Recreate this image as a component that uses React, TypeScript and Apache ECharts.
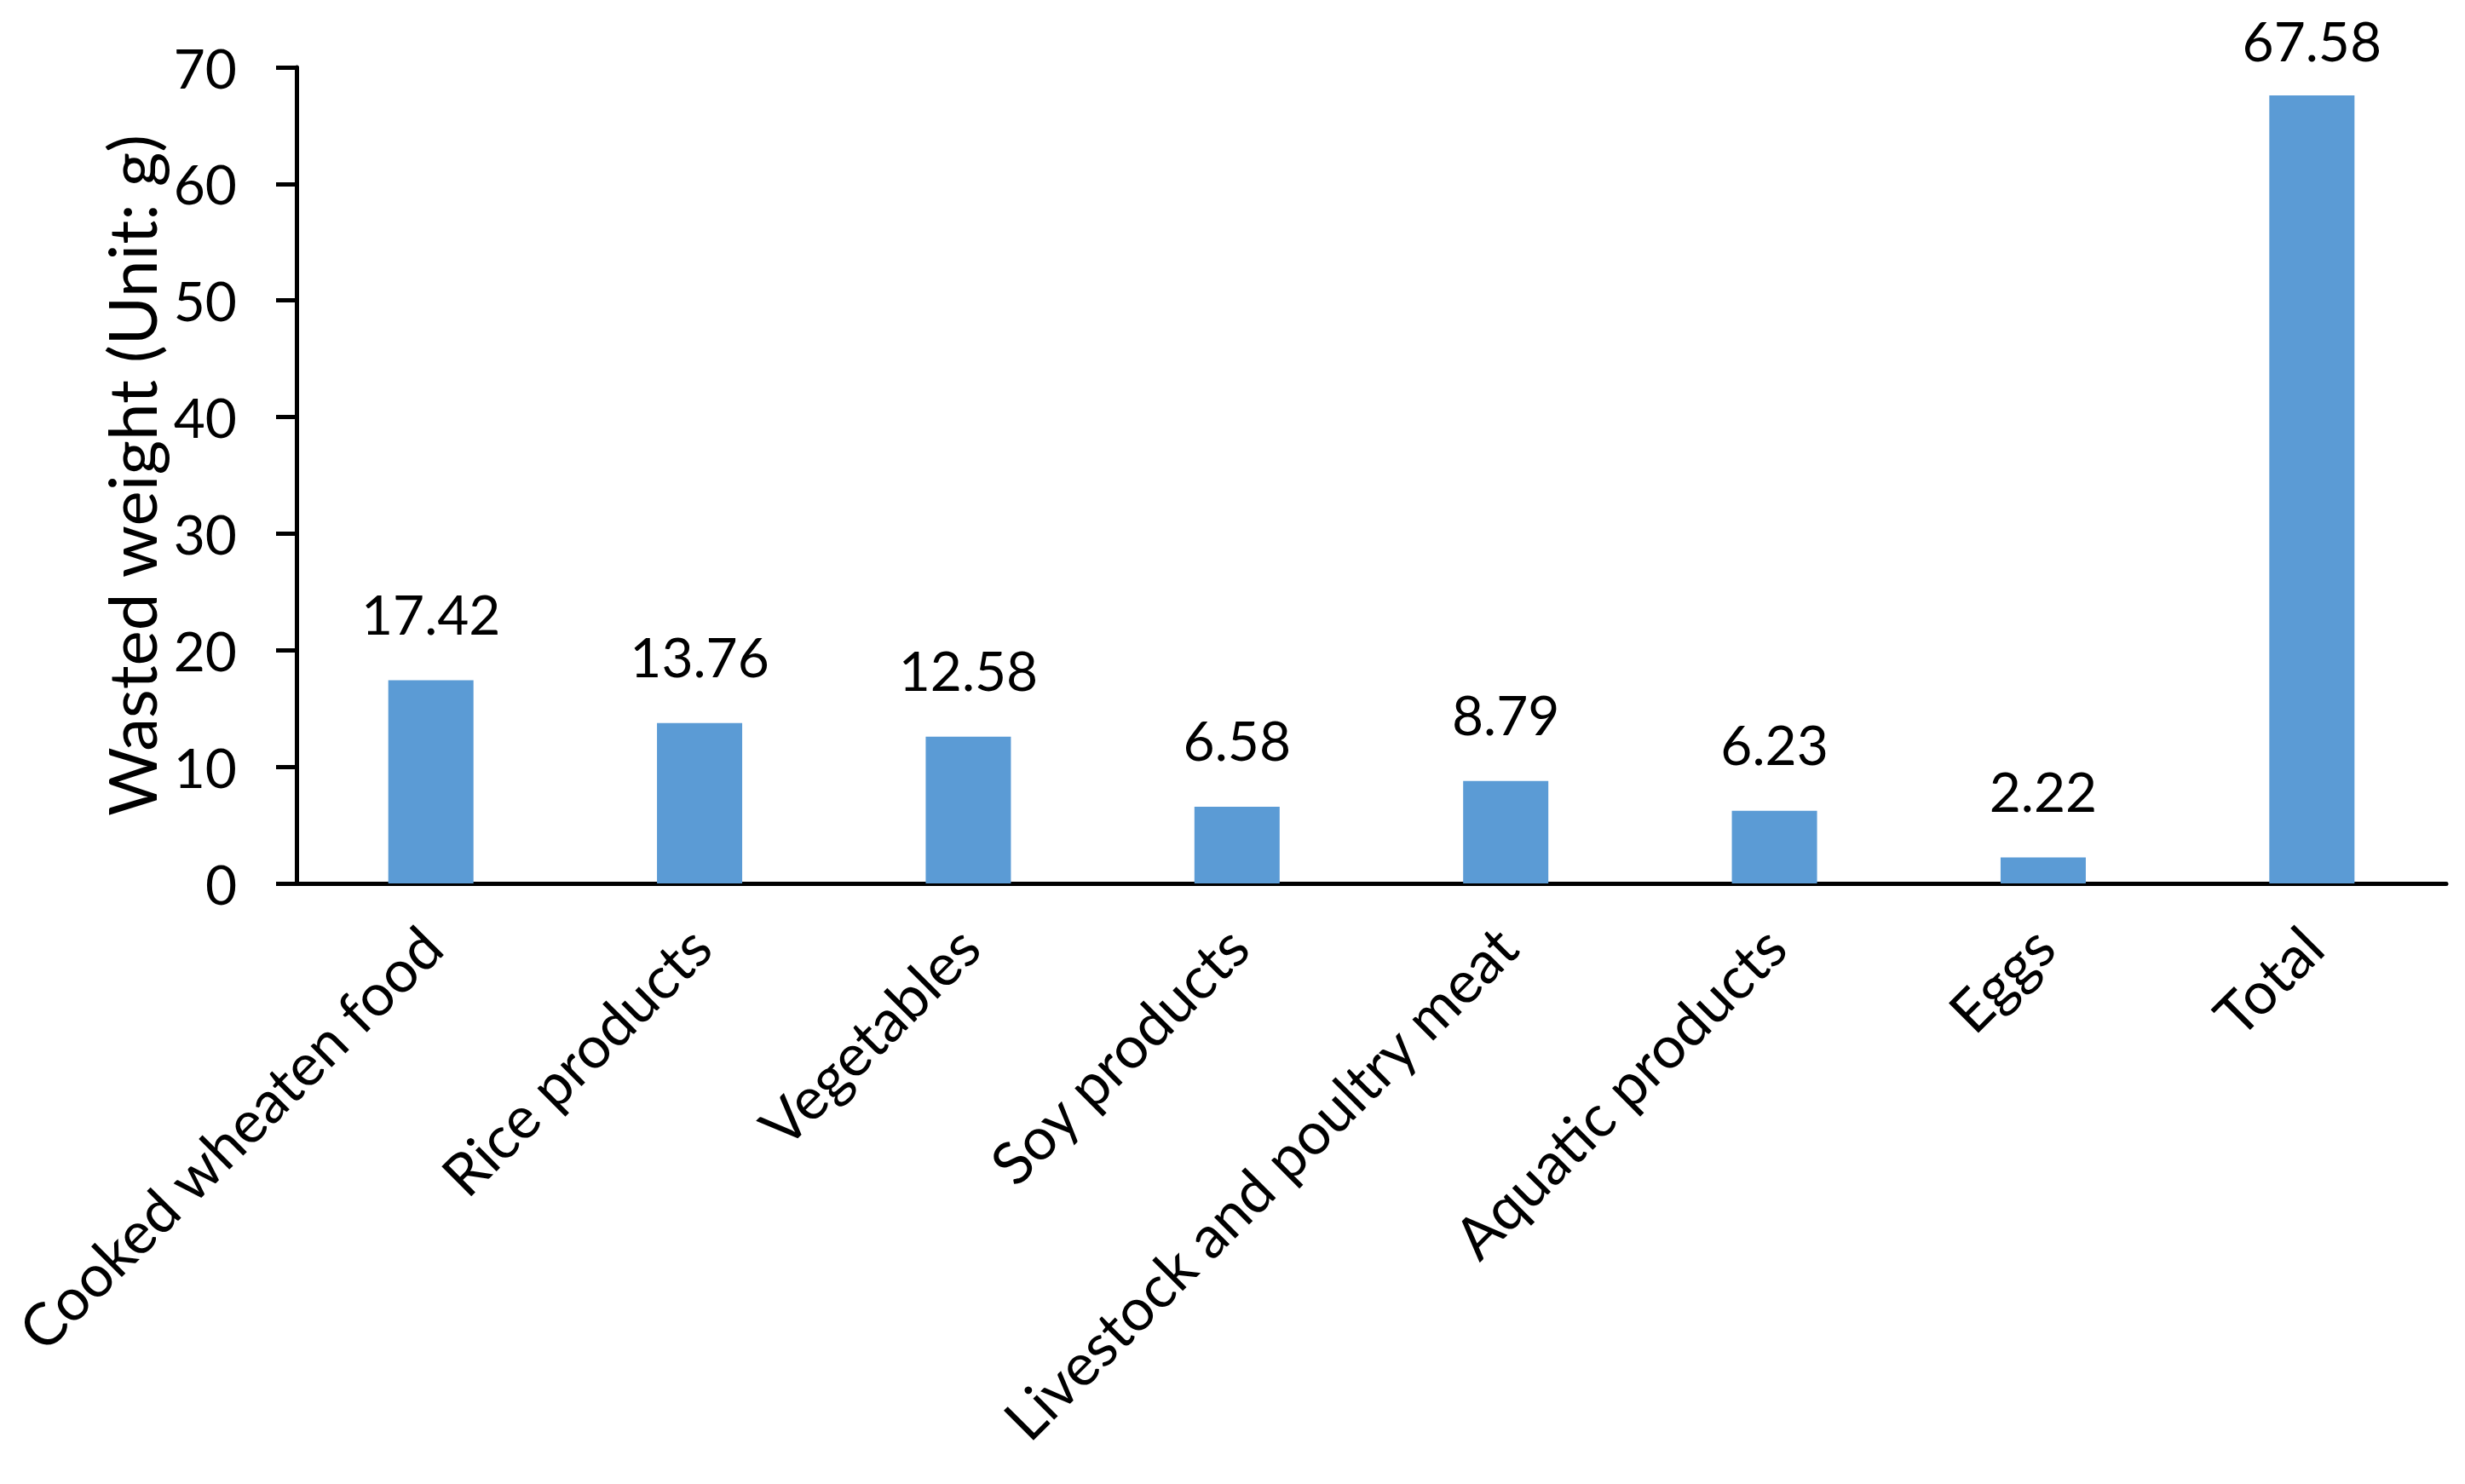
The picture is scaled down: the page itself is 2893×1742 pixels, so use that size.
import React, { useEffect, useRef } from "react";
import * as echarts from "echarts";

const categories = [
  "Cooked wheaten food",
  "Rice products",
  "Vegetables",
  "Soy products",
  "Livestock and poultry meat",
  "Aquatic products",
  "Eggs",
  "Total",
];
const wastedWeight = [17.42, 13.76, 12.58, 6.58, 8.79, 6.23, 2.22, 67.58];
const yAxisTitle = "Wasted weight (Unit: g)";

const FONT = "Lato";

export default function App() {
  const ref = useRef<HTMLDivElement>(null);
  useEffect(() => {
    document.body.style.margin = "0";
    if (!ref.current) return;
    const chart = echarts.init(ref.current, undefined, { renderer: "svg" });
    const last = wastedWeight.length - 1;
    chart.setOption({
      animation: false,
      backgroundColor: "#ffffff",
      grid: { left: 348, right: 22, top: 79, bottom: 705, containLabel: false },
      xAxis: {
        type: "category",
        data: categories,
        axisLine: { show: true, lineStyle: { color: "#000", width: 5 } },
        axisTick: { show: false },
        axisLabel: {
          rotate: 45,
          interval: 0,
          margin: 62,
          color: "#000",
          fontFamily: FONT,
          fontSize: 69,
        },
      },
      yAxis: {
        type: "value",
        min: 0,
        max: 70,
        interval: 10,
        name: yAxisTitle,
        nameLocation: "middle",
        nameGap: 148,
        nameTextStyle: { color: "#000", fontFamily: FONT, fontSize: 78 },
        axisLine: { show: true, lineStyle: { color: "#000", width: 5 } },
        axisTick: { show: true, inside: false, length: 24, lineStyle: { color: "#000", width: 5 } },
        splitLine: { show: false },
        axisLabel: { margin: 70, color: "#000", fontFamily: FONT, fontSize: 64 },
      },
      series: [
        {
          type: "bar",
          data: wastedWeight.map((v, i) =>
            i === last ? { value: v, label: { distance: 33 } } : v
          ),
          barWidth: 100,
          itemStyle: { color: "#5B9BD5" },
          label: {
            show: true,
            position: "top",
            distance: 46,
            color: "#000",
            fontFamily: FONT,
            fontSize: 64,
            formatter: (p: any) => p.value.toFixed(2),
          },
        },
      ],
    });
    return () => chart.dispose();
  }, []);
  return <div ref={ref} style={{ width: 2893, height: 1742 }} />;
}
